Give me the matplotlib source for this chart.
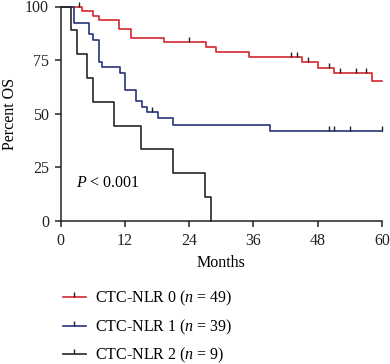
import numpy as np
import matplotlib
matplotlib.use("Agg")
import matplotlib.pyplot as plt
from matplotlib.path import Path
from matplotlib.lines import Line2D

# ---- data ----
red_t = [0, 4.0, 6.1, 7.2, 10.9, 13.1, 19.2, 27.1, 29.0, 35.2, 45.0, 48.0, 51.1, 58.1, 60]
red_s = [100, 97.7, 95.7, 93.7, 89.5, 85.4, 83.2, 80.9, 78.6, 76.5, 73.9, 71.4, 69.1, 65.3, 65.3]
red_c = [3.4, 24.0, 43.0, 44.1, 46.1, 50.1, 52.2, 55.1, 57.1]

blue_t = [0, 2.5, 5.2, 6.1, 7.2, 7.8, 11.1, 12.1, 14.0, 15.1, 16.1, 18.1, 21.0, 39.1, 60]
blue_s = [100, 92.2, 87.3, 84.4, 74.0, 71.9, 69.1, 60.9, 55.7, 53.2, 50.9, 47.8, 44.7, 42.0, 42.0]
blue_c = [17.0, 50.1, 51.1, 54.1, 60.0]

black_t = [0, 2, 3, 5, 6, 10, 15, 21, 27, 28]
black_s = [100, 88.9, 77.8, 66.7, 55.6, 44.4, 33.3, 22.2, 11.1, 0]
black_c = []

labels = [r"CTC-NLR 0 ($n$ = 49)", r"CTC-NLR 1 ($n$ = 39)", r"CTC-NLR 2 ($n$ = 9)"]
colors = ["#d6262f", "#27347c", "#262626"]
x_ticks = [0, 12, 24, 36, 48, 60]
y_ticks = [0, 25, 50, 75, 100]

plt.rcParams["font.family"] = ["Liberation Serif", "DejaVu Serif"]
plt.rcParams["mathtext.fontset"] = "custom"
plt.rcParams["mathtext.rm"] = "Liberation Serif"
plt.rcParams["mathtext.it"] = "Liberation Serif:italic"

fig = plt.figure(figsize=(3.9, 3.64), dpi=100)
W, H = 390, 364
l, r, t, b = 60.7, 382, 6.5, 220.7
ax = fig.add_axes([l / W, 1 - b / H, (r - l) / W, (b - t) / H])

tick_marker = Path([(0, 0), (0, 1)])

def surv_at(times, surv, c):
    idx = np.searchsorted(times, c, side="right") - 1
    return np.asarray(surv)[idx]

series = [(red_t, red_s, red_c), (blue_t, blue_s, blue_c), (black_t, black_s, black_c)]
handles = []
for (tt, ss, cc), col, lab in zip(series, colors, labels):
    ax.step(tt, ss, where="post", color=col, lw=1.2, clip_on=False, zorder=3)
    if cc:
        ax.plot(cc, surv_at(tt, ss, cc), linestyle="none", marker=tick_marker,
                markersize=7, markeredgewidth=1.0, color="#222222", clip_on=False, zorder=4)
    handles.append(Line2D([], [], color=col, lw=1.2, marker=tick_marker, markersize=7,
                          markeredgecolor="#222222", markeredgewidth=1.0))

ax.set_xlim(0, 60)
ax.set_ylim(0, 100)
ax.set_xticks(x_ticks)
ax.set_yticks(y_ticks)
for s in ["top", "right"]:
    ax.spines[s].set_visible(False)
for s in ["left", "bottom"]:
    ax.spines[s].set_linewidth(1.1)
    ax.spines[s].set_color("#222222")
ax.tick_params(direction="out", length=4.5, width=1.1, labelsize=11.5, pad=4, colors="#222222")
ax.set_xlabel("Months", fontsize=11.5, labelpad=5)
ax.set_ylabel("Percent OS", fontsize=11.5, labelpad=5)

ax.text(2.9, 17.5, r"$P$ < 0.001", fontsize=11.5, va="center", ha="left")

fig.legend(handles, labels, loc="upper left", bbox_to_anchor=(62.7 / W, 1 - 289 / H),
           frameon=False, fontsize=11.5, handlelength=1.45, handletextpad=0.6,
           labelspacing=0.58, borderpad=0, borderaxespad=0, numpoints=1)

fig.savefig("out.png", dpi=100)
